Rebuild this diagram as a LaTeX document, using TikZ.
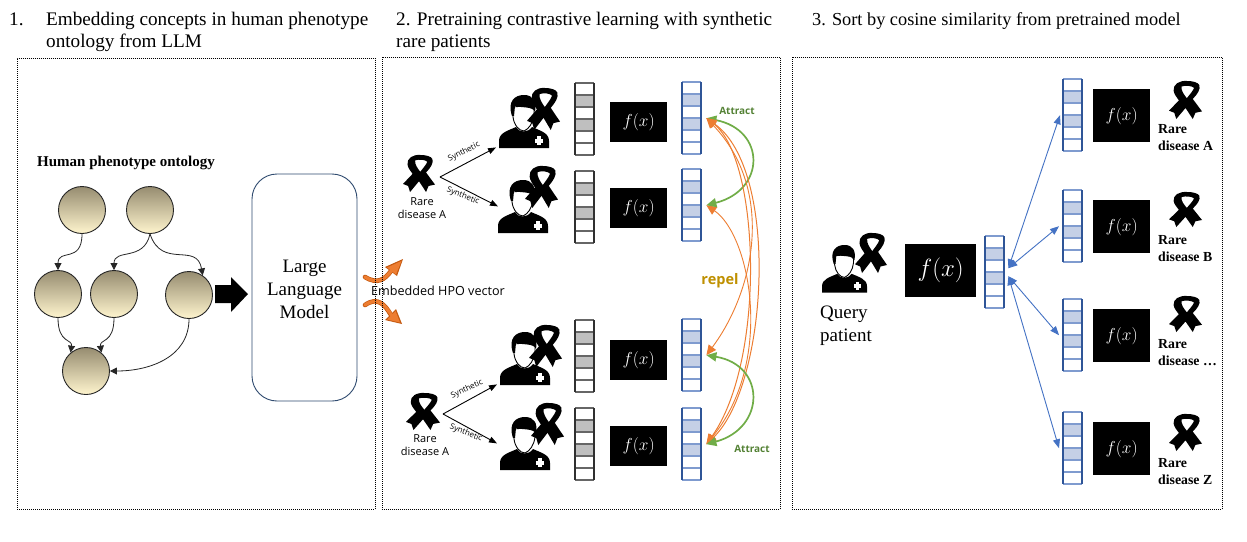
\documentclass[tikz,border=0pt]{standalone}
\usepackage{fontspec}
\setmainfont{Liberation Serif}
\newfontfamily\labelfont{Open Sans}
\usetikzlibrary{arrows.meta}
\definecolor{orangeA}{HTML}{ED7D31}
\definecolor{orangeB}{HTML}{C55A11}
\definecolor{greenA}{HTML}{70AD47}
\definecolor{greenT}{HTML}{548235}
\definecolor{goldT}{HTML}{BF9000}
\definecolor{blueA}{HTML}{4472C4}
\definecolor{blueE}{HTML}{2F5597}
\definecolor{blueR}{HTML}{7F9BCF}
\definecolor{blueF}{HTML}{C5D0E6}
\definecolor{greyE}{HTML}{303030}
\definecolor{greyR}{HTML}{666666}
\definecolor{greyF}{HTML}{BFBFBF}
\definecolor{llmblue}{HTML}{2F4A6F}
\definecolor{onTop}{HTML}{968C70}
\definecolor{onBot}{HTML}{FFF5CE}
\tikzset{
  x=1pt,y=-1pt,
  panel/.style={draw=black,line width=0.8pt,dash pattern=on 1pt off 1pt},
  onto/.style={circle,draw=black!85,line width=0.9pt,minimum size=47pt,inner sep=0pt,top color=onTop,bottom color=onBot},
  ontoarrow/.style={draw=black!85,line width=0.8pt,-{Triangle[length=7pt,width=7pt]}},
  fxbox/.style={fill=black,text=white,anchor=north west,inner sep=0pt,minimum width=57pt,minimum height=40pt,font=\fontsize{17}{20}\selectfont},
  title/.style={anchor=base west,inner sep=0pt,font=\fontsize{19.2}{22}\selectfont},
  smalllabel/.style={inner sep=0pt,align=center,font=\labelfont\fontsize{11}{13}\selectfont},
  synth/.style={inner sep=0pt,font=\labelfont\fontsize{8}{9}\selectfont},
  rarelabel/.style={anchor=north west,inner sep=0pt,align=left,font=\bfseries\fontsize{13.8}{17}\selectfont},
  synarrow/.style={draw=black,line width=0.9pt,-{Triangle[length=8pt,width=6pt]}},
  bluearrow/.style={draw=blueA,line width=0.9pt,{Triangle[length=9pt,width=7pt]}-{Triangle[length=9pt,width=7pt]}},
  attractarc/.style={draw=greenA,line width=1.7pt,{Triangle[length=10pt,width=9pt]}-{Triangle[length=10pt,width=9pt]}},
  repelarc/.style={draw=orangeA,line width=#1,{Triangle[length=10pt,width=9pt]}-{Triangle[length=10pt,width=9pt]}},
  sarrow/.style={line cap=round},
}
% ribbon drawn in a box of width #3 and height #4
\newcommand{\ribbonmark}[4]{%
  \begin{scope}[shift={(#1,#2)},xscale=#3/100,yscale=#4/110]
    \fill[black,even odd rule] (55,0) .. controls (30,-2) and (12,10) .. (14,28) .. controls (15,38) and (24,48) .. (30,56) -- (0,86) -- (16,92) -- (22,110) -- (50,78) -- (72,110) -- (80,92) -- (100,88) -- (72,52) .. controls (86,38) and (96,24) .. (92,12) .. controls (88,4) and (72,0) .. (55,0) -- cycle
      (38,16) .. controls (50,12) and (70,14) .. (76,20) .. controls (72,30) and (60,42) .. (54,50) .. controls (46,40) and (36,28) .. (38,16) -- cycle;
  \end{scope}}
% person: body, head and hair in a 50 by 53 box
\newcommand{\personmark}[3]{%
  \begin{scope}[shift={(#1,#2)},scale=#3]
    \fill[black] (0,53) -- (0,46) .. controls (0,38) and (8,36) .. (17,32) .. controls (20,38) and (29,38) .. (33,32) .. controls (42,36) and (50,38) .. (50,46) -- (50,53) -- cycle;
    \fill[white] (37.5,41) rectangle (41.5,50);
    \fill[white] (35.5,43.5) rectangle (43.5,47.5);
    \filldraw[fill=white,draw=black,line width=0.9pt] (14,12) -- (14,22) .. controls (15,30) and (20,36) .. (25,36) .. controls (30,34) and (34,28) .. (35,20) -- (35,10) -- cycle;
    \fill[black] (13,21) .. controls (8,6) and (16,0) .. (25,0) .. controls (34,0) and (38,6) .. (36,17) .. controls (34,11) and (22,13) .. (16,11) -- (15,21) -- cycle;
  \end{scope}}
% bar of six cells, with cells 2 and 4 filled
\newcommand{\cellbar}[6]{%
  \node[minimum width=19pt,minimum height=72pt,inner sep=0pt,anchor=north west] (#1) at (#2,#3) {};
  \begin{scope}[shift={(#2,#3)}]
    \fill[#6] (0,12) rectangle (19,24) (0,36) rectangle (19,48);
    \foreach \yy in {0,12,24,36,48,60,72} {\draw[#5,line width=1.1pt] (0,\yy) -- (19,\yy);}
    \draw[#4,line width=1.8pt] (0,0) -- (0,72) (19,0) -- (19,72);
  \end{scope}}
\newcommand{\greybar}[3]{\cellbar{#1}{#2}{#3}{greyE}{greyR}{greyF}}
\newcommand{\bluebar}[3]{\cellbar{#1}{#2}{#3}{blueE}{blueR}{blueF}}
\begin{document}
\begin{tikzpicture}
\useasboundingbox (0,0) rectangle (1247,541);
\fill[white] (0,0) rectangle (1247,541);

% titles
\node[title] (t1n) at (9,25) {1.};
\node[title] (t1a) at (46,25) {Embedding concepts in human phenotype};
\node[title] (t1b) at (46,47) {ontology from LLM};
\node[title] (t2a) at (396,25) {2. Pretraining contrastive learning with synthetic};
\node[title] (t2b) at (396,47) {rare patients};
\node[title,font=\fontsize{18.3}{22}\selectfont] (t3a) at (812,25) {3. Sort by cosine similarity from pretrained model};

% panel 1
\node[inner sep=0pt,font=\bfseries\fontsize{15}{17}\selectfont] (hpo) at (126,162.5) {Human phenotype ontology};
\node[onto] (c1) at (82,210) {};
\node[onto] (c2) at (150,210) {};
\node[onto] (c3) at (58,294) {};
\node[onto] (c4) at (114,294) {};
\node[onto] (c5) at (189,295) {};
\node[onto] (c6) at (86,371) {};
\draw[ontoarrow] (c1.south) .. controls +(0,30) and +(0,-22) .. (c3.north);
\draw[ontoarrow] (c2.south) .. controls +(-6,28) and +(0,-22) .. (c4.north);
\draw[ontoarrow] (c2.south) .. controls +(12,36) and +(-6,-34) .. (c5.55);
\draw[ontoarrow] (c3.south) .. controls +(0,26) and +(2,-14) .. (c6.130);
\draw[ontoarrow] (c4.south) .. controls +(0,26) and +(-2,-14) .. (c6.50);
\draw[ontoarrow] (c5.south) .. controls +(0,38) and +(40,0) .. (c6.east);
\fill[black] (215,285) -- (231,285) -- (231,277) -- (248,294) -- (231,312) -- (231,303) -- (215,303) -- cycle;
\node[draw=llmblue,line width=0.9pt,rounded corners=25pt,minimum width=105pt,minimum height=227pt,inner sep=0pt,align=center,font=\fontsize{19}{23}\selectfont] (llm) at (304.5,287.5) {\rule{0pt}{17pt}Large\\Language\\Model};

% embedded arrows
\coordinate (ea1) at (365,277);
\coordinate (ea2) at (403,259);
\coordinate (eb1) at (365,305);
\coordinate (eb2) at (402,324);
\draw[sarrow,orangeB,line width=4.6pt] (ea1) .. controls (378,285) and (385,279) .. (391,271);
\draw[sarrow,orangeB,line width=4.6pt] (eb1) .. controls (378,296) and (385,305) .. (391,315);
\fill[orangeB] (ea2) -- (397,276) -- (385,267) -- cycle;
\fill[orangeB] (eb2) -- (385,320) -- (396,309) -- cycle;
\draw[sarrow,orangeA,line width=3.2pt] (ea1) .. controls (378,285) and (385,279) .. (392,270);
\draw[sarrow,orangeA,line width=3.2pt] (eb1) .. controls (378,296) and (385,305) .. (392,316);
\fill[orangeA] (401.5,261) -- (396,274.5) -- (387,267.5) -- cycle;
\fill[orangeA] (400,322.5) -- (387,319.5) -- (395.5,311) -- cycle;
\node[smalllabel,anchor=west,font=\labelfont\fontsize{12.6}{14}\selectfont] (hpov) at (371,290.5) {Embedded HPO vector};

% panel 2: patients
\ribbonmark{403}{155}{32}{37}
\node[smalllabel] (ra) at (422,208.5) {Rare\\disease A};
\ribbonmark{406}{393}{34}{37}
\node[smalllabel] (rb) at (425,445.5) {Rare\\disease A};

\personmark{499}{95}{1}
\ribbonmark{527}{88}{33}{42}
\personmark{498}{180}{1}
\ribbonmark{525}{166}{33}{42}
\personmark{500}{332}{1}
\ribbonmark{529}{325}{33}{42}
\personmark{500}{417}{1}
\ribbonmark{531}{403}{33}{42}

\coordinate (sa) at (440,177);
\coordinate (sb) at (443,414);
\node[inner sep=0pt,minimum width=50pt,minimum height=53pt,anchor=north west] (p1) at (499,95) {};
\node[inner sep=0pt,minimum width=50pt,minimum height=53pt,anchor=north west] (p2) at (498,180) {};
\node[inner sep=0pt,minimum width=50pt,minimum height=53pt,anchor=north west] (p3) at (500,332) {};
\node[inner sep=0pt,minimum width=50pt,minimum height=53pt,anchor=north west] (p4) at (500,417) {};
\draw[synarrow] (sa) -- ([shift={(-3,-1)}]p1.south west);
\draw[synarrow] (sa) -- ([shift={(0,-27)}]p2.south west);
\draw[synarrow] (sb) -- ([shift={(-3,-1)}]p3.south west);
\draw[synarrow] (sb) -- ([shift={(-3,-27)}]p4.south west);
\node[synth,rotate=27] (sy1) at (464,152) {Synthetic};
\node[synth,rotate=-22] (sy2) at (463,196) {Synthetic};
\node[synth,rotate=25] (sy3) at (467,389) {Synthetic};
\node[synth,rotate=-22] (sy4) at (466,433) {Synthetic};

% panel 2: bars and encoders
\greybar{g1}{575}{83}
\greybar{g2}{575}{171}
\greybar{g3}{575}{320}
\greybar{g4}{575}{408}
\node[fxbox] (f1) at (610,102) {$f(x)$};
\node[fxbox] (f2) at (610,188) {$f(x)$};
\node[fxbox] (f3) at (610,340) {$f(x)$};
\node[fxbox] (f4) at (610,426) {$f(x)$};
\bluebar{b1}{682}{82}
\bluebar{b2}{682}{169}
\bluebar{b3}{682}{319}
\bluebar{b4}{682}{408}

\coordinate (q1) at ([xshift=5pt]b1.east);
\coordinate (q2) at ([xshift=5pt]b2.east);
\coordinate (q3) at ([xshift=5pt]b3.east);
\coordinate (q4) at ([xshift=5pt]b4.east);
\draw[repelarc=0.9pt] (q2) .. controls (750,235) and (775,360) .. (q4);
\draw[attractarc] (q1) .. controls (766,130) and (766,190) .. (q2);
\draw[repelarc=1pt] (q1) .. controls (780,170) and (768,385) .. (q4);
\draw[repelarc=1pt] (q1) .. controls (760,160) and (766,360) .. (q4);
\draw[repelarc=0.9pt] (q1) .. controls (775,190) and (755,290) .. (q3);
\draw[attractarc] (q3) .. controls (766,365) and (766,428) .. (q4);
\node[inner sep=0pt,text=greenT,font=\labelfont\bfseries\fontsize{10}{12}\selectfont] (at1) at (737,111) {Attract};
\node[inner sep=0pt,text=greenT,font=\labelfont\bfseries\fontsize{10}{12}\selectfont] (at2) at (752,449) {Attract};
\node[inner sep=0pt,text=goldT,font=\labelfont\bfseries\fontsize{14.5}{16}\selectfont] (rep) at (720,281) {repel};

% panel 3
\personmark{822}{245}{0.9}
\ribbonmark{855}{233}{32}{40}
\node[anchor=north west,inner sep=0pt,align=left,font=\fontsize{19}{23}\selectfont] (query) at (820,305.5) {Query\\patient};
\node[fxbox,minimum width=71pt,minimum height=53pt,font=\fontsize{23}{26}\selectfont] (fq) at (905,244) {$f(x)$};
\bluebar{vq}{985}{236}
\bluebar{va}{1063}{79}
\bluebar{vb}{1063}{190}
\bluebar{vc}{1063}{299}
\bluebar{vd}{1063}{412}
\node[fxbox,minimum height=53pt] (fa) at (1093,89) {$f(x)$};
\node[fxbox,minimum height=53pt] (fb) at (1093,200) {$f(x)$};
\node[fxbox,minimum height=53pt] (fc) at (1093,309) {$f(x)$};
\node[fxbox,minimum height=53pt] (fd) at (1093,422) {$f(x)$};
\ribbonmark{1169}{81}{33}{38}
\ribbonmark{1169}{192}{33}{35}
\ribbonmark{1169}{296}{33}{36}
\ribbonmark{1169}{414}{33}{37}
\node[rarelabel] (la) at (1158,124) {Rare\\disease A};
\node[rarelabel] (lb) at (1158,235) {Rare\\disease B};
\node[rarelabel] (lc) at (1158,339) {Rare\\disease …};
\node[rarelabel] (ld) at (1158,458) {Rare\\disease Z};
\coordinate (qu) at ([shift={(4,-4)}]vq.east);
\coordinate (qd) at ([shift={(4,4)}]vq.east);
\draw[bluearrow] (qu) -- ([xshift=-3pt]va.west);
\draw[bluearrow] (qu) -- ([xshift=-4pt]vb.west);
\draw[bluearrow] (qd) -- ([xshift=-4pt]vc.west);
\draw[bluearrow] (qd) -- ([xshift=-4pt]vd.west);

% panel frames
\node[panel,anchor=north west,inner sep=0pt,minimum width=358pt,minimum height=451pt] (pa) at (17,58) {};
\node[panel,anchor=north west,inner sep=0pt,minimum width=398pt,minimum height=452pt] (pb) at (382,57) {};
\node[panel,anchor=north west,inner sep=0pt,minimum width=430pt,minimum height=452pt] (pc) at (792,57) {};
\end{tikzpicture}
\end{document}
